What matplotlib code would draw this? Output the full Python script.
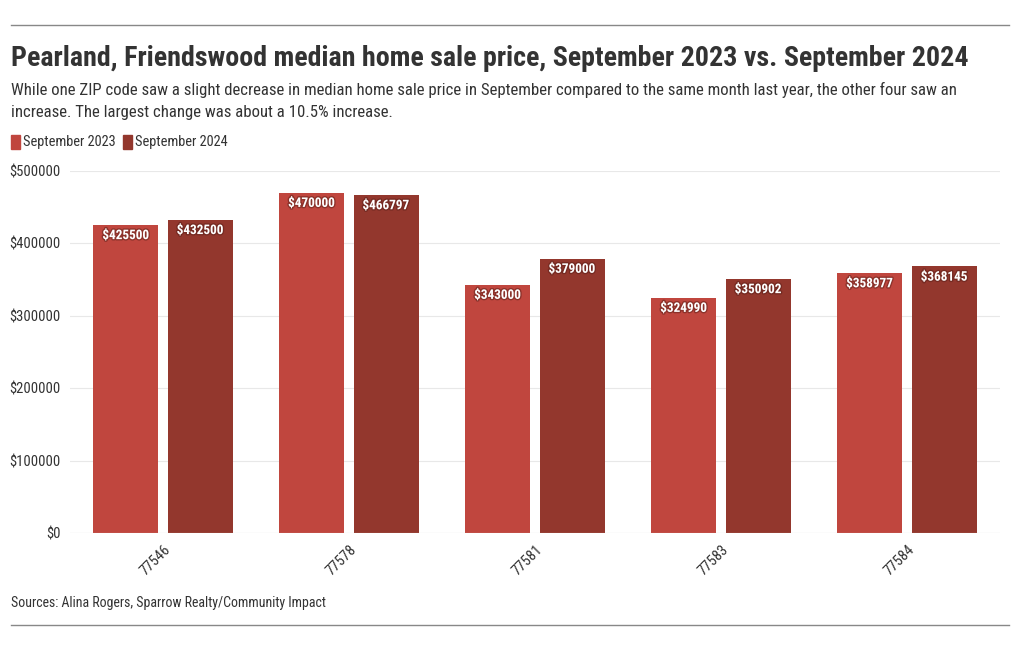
import matplotlib
matplotlib.use("Agg")
import matplotlib.pyplot as plt
import matplotlib.patheffects as pe
from matplotlib import font_manager
import numpy as np

zips = ["77546", "77578", "77581", "77583", "77584"]
sep_2023 = [425500, 470000, 343000, 324990, 358977]
sep_2024 = [432500, 466797, 379000, 350902, 368145]
series_names = ["September 2023", "September 2024"]
yticks = [0, 100000, 200000, 300000, 400000, 500000]

title = "Pearland, Friendswood median home sale price, September 2023 vs. September 2024"
subtitle = ("While one ZIP code saw a slight decrease in median home sale price in September compared to the same month last year, the other four saw an\n"
            "increase. The largest change was about a 10.5% increase.")
source = "Sources: Alina Rogers, Sparrow Realty/Community Impact"

c23 = "#c0463e"
c24 = "#93372d"

# pick a narrow font if one is around
names = {f.name for f in font_manager.fontManager.ttflist}
fam = "Roboto"
for cand in ["Roboto Condensed", "Liberation Sans Narrow", "Roboto"]:
    if cand in names:
        fam = cand
        break
plt.rcParams["font.family"] = [fam, "DejaVu Sans"]

fig = plt.figure(figsize=(10.2, 6.5), dpi=100)
ax = fig.add_axes([70/1020, 1-533/650, (1000-70)/1020, (533-171)/650])

x = np.arange(len(zips))
w = 0.35
b1 = ax.bar(x - 0.2, sep_2023, w, color=c23, zorder=2)
b2 = ax.bar(x + 0.2, sep_2024, w, color=c24, zorder=2)

shadow = [pe.withStroke(linewidth=2, foreground="#5a1f18", alpha=0.5)]
for bars, vals in [(b1, sep_2023), (b2, sep_2024)]:
    for r, v in zip(bars, vals):
        ax.annotate(f"${v}", (r.get_x() + r.get_width()/2, v), xytext=(0, -3),
                    textcoords="offset points", ha="center", va="top",
                    color="white", fontsize=9.5, fontweight="bold", path_effects=shadow)

ax.set_xlim(-0.5, len(zips) - 0.5)
ax.set_ylim(0, 500000)
ax.set_yticks(yticks)
ax.set_yticklabels([f"${t}" for t in yticks], fontsize=10.5, color="#333333")
ax.set_xticks(x)
ax.set_xticklabels(zips, rotation=45, ha="right", rotation_mode="anchor",
                   fontsize=10.5, color="#333333")
ax.tick_params(length=0)
ax.tick_params(axis="y", pad=7)
ax.tick_params(axis="x", pad=7)
ax.grid(axis="y", color="#e8e8e8", lw=0.8, zorder=0)
for s in ax.spines.values():
    s.set_visible(False)
ax.axhline(0, color="#dddddd", lw=0.8, zorder=3)

fig.add_artist(plt.Line2D([11/1020, 1009/1020], [1-25/650]*2, color="#888888", lw=1))
fig.add_artist(plt.Line2D([11/1020, 1009/1020], [1-625/650]*2, color="#888888", lw=1))

fig.text(11/1020, 1-59/650, title, fontsize=20.2, fontweight="bold", color="#333333", va="center")
fig.text(11/1020, 1-101/650, subtitle, fontsize=12.1, color="#333333", va="center", linespacing=1.55)

# legend
lx = 11
for name, col in zip(series_names, [c23, c24]):
    fig.patches.append(plt.Rectangle((lx/1020, 1-149/650), 9/1020, 14/650, color=col,
                                     transform=fig.transFigure, figure=fig))
    t = fig.text((lx + 12)/1020, 1-142/650, name, fontsize=10.4, color="#333333", va="center")
    fig.canvas.draw()
    bb = t.get_window_extent()
    lx = bb.x1 + 7

fig.text(11/1020, 1-603/650, source, fontsize=10, color="#333333", va="center")

fig.savefig("out.png", dpi=100)
